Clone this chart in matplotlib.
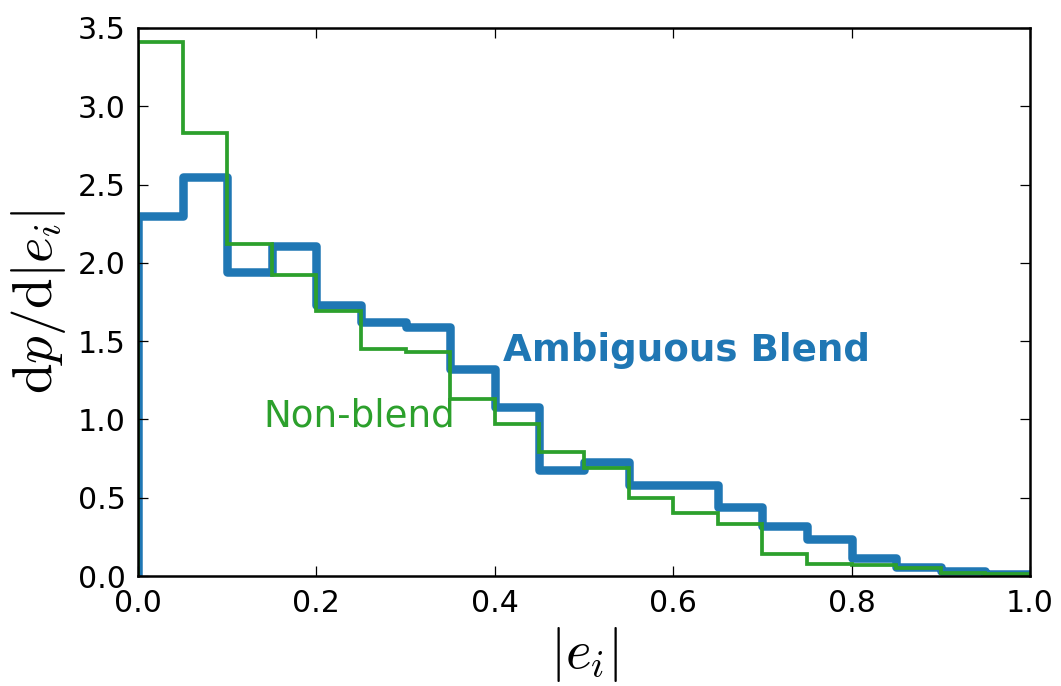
import numpy as np
import matplotlib
matplotlib.use("Agg")
import matplotlib.pyplot as plt

plt.rcParams['mathtext.fontset'] = 'cm'
plt.rcParams['font.family'] = 'DejaVu Sans'

# bin edges of |e_i| (width 0.05)
edges = np.round(np.arange(21) * 0.05, 2)

# ambiguous blends (thick blue)
ambiguous = [2.30, 2.55, 1.94, 2.11, 1.73, 1.62, 1.59, 1.32, 1.08, 0.68,
             0.73, 0.58, 0.58, 0.44, 0.32, 0.235, 0.115, 0.06, 0.03, 0.01]
# non-blends (thin green)
nonblend = [3.41, 2.83, 2.12, 1.92, 1.69, 1.45, 1.43, 1.13, 0.97, 0.79,
            0.69, 0.50, 0.40, 0.33, 0.14, 0.08, 0.07, 0.05, 0.02, 0.01]

xticks = [0.0, 0.2, 0.4, 0.6, 0.8, 1.0]
yticks = [0.0, 0.5, 1.0, 1.5, 2.0, 2.5, 3.0, 3.5]

fig = plt.figure(figsize=(1061 / 180, 686 / 180), dpi=180)
ax = fig.add_axes([0.130, 0.1603, 0.8408, 0.7989])

ax.stairs(ambiguous, edges, baseline=0, color='#1f77b4', lw=3.4, joinstyle='round')
ax.stairs(nonblend, edges, baseline=0, color='#2ca02c', lw=1.5)

ax.text(0.409, 1.373, 'Ambiguous Blend', color='#1f77b4', fontsize=14.9,
        fontweight='bold', ha='left', va='baseline')
ax.text(0.141, 0.958, 'Non-blend', color='#2ca02c', fontsize=14.9,
        ha='left', va='baseline')

ax.set_xlim(0, 1)
ax.set_ylim(0, 3.5)
ax.set_xticks(xticks)
ax.set_yticks(yticks)
ax.set_xticklabels(['%.1f' % t for t in xticks])
ax.set_yticklabels(['%.1f' % t for t in yticks])
ax.tick_params(direction='in', top=True, right=True, length=4, width=0.5,
               labelsize=12, pad=5)
for s in ax.spines.values():
    s.set_linewidth(1.0)

ax.set_xlabel(r'$|e_i|$', fontsize=22, labelpad=3)
ax.set_ylabel(r'$\mathrm{d}p/\mathrm{d}|e_i|$', fontsize=22, labelpad=4)

fig.savefig('out.png', dpi=180)
